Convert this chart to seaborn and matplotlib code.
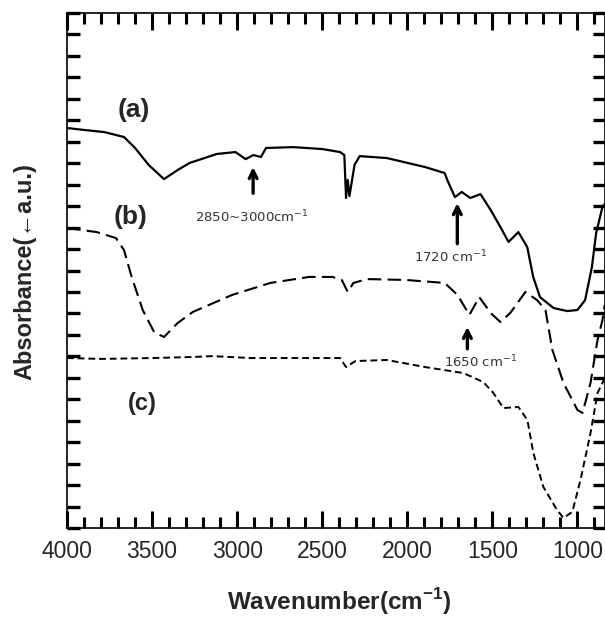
import numpy as np
import pandas as pd
import matplotlib
matplotlib.use("Agg")
import matplotlib.pyplot as plt
import seaborn as sns
from matplotlib.ticker import MultipleLocator, NullFormatter

# ---------------- data ----------------
wn_a = [4000, 3900, 3780, 3665, 3600, 3520, 3430, 3350, 3280, 3120, 3010, 2950, 2905,
        2860, 2830, 2670, 2500, 2395, 2370, 2360, 2350, 2340, 2310, 2280, 2120, 1895,
        1780, 1765, 1720, 1680, 1630, 1570, 1510, 1453, 1405, 1347, 1295, 1260, 1220,
        1140, 1060, 1000, 955, 915, 890, 853, 840]
abs_a = [18.64, 18.55, 18.45, 18.22, 17.71, 16.92, 16.26, 16.68, 17.01, 17.43, 17.52,
         17.19, 17.38, 17.29, 17.71, 17.75, 17.66, 17.52, 17.38, 15.38, 16.22, 15.47,
         16.92, 17.33, 17.24, 16.82, 16.54, 16.22, 15.42, 15.66, 15.38, 15.56, 14.82,
         14.03, 13.33, 13.79, 13.09, 11.70, 10.76, 10.25, 10.11, 10.16, 10.62, 12.16,
         13.75, 14.96, 15.10]

wn_b = [4000, 3825, 3712, 3665, 3620, 3555, 3488, 3430, 3350, 3260, 3030, 2805, 2577,
        2440, 2385, 2350, 2317, 2235, 2010, 1780, 1705, 1635, 1577, 1510, 1453, 1395,
        1306, 1237, 1188, 1147, 1082, 1000, 970, 923, 882, 853, 840]
abs_b = [13.98, 13.79, 13.51, 12.95, 11.70, 10.16, 9.13, 8.90, 9.55, 10.07, 10.86,
         11.42, 11.70, 11.70, 11.56, 11.00, 11.42, 11.60, 11.56, 11.42, 10.86, 9.93,
         10.76, 10.02, 9.60, 10.02, 11.00, 10.62, 10.16, 8.29, 6.76, 5.50, 5.36, 6.76,
         8.76, 9.69, 10.39]

wn_c = [4000, 3800, 3500, 3260, 3145, 2918, 2600, 2395, 2360, 2305, 2120, 1895, 1670,
        1553, 1494, 1435, 1347, 1294, 1259, 1200, 1120, 1082, 1030, 982, 923, 882, 853, 840]
abs_c = [7.92, 7.88, 7.92, 7.97, 8.01, 7.92, 7.92, 7.92, 7.50, 7.78, 7.83, 7.50, 7.22,
         6.80, 6.29, 5.59, 5.64, 5.03, 3.49, 1.91, 0.84, 0.47, 0.75, 2.24, 4.43, 6.29,
         6.76, 6.99]

series_labels = ["(a)", "(b)", "(c)"]
peak_labels = ["2850~3000cm$^{-1}$", "1720 cm$^{-1}$", "1650 cm$^{-1}$"]
x_ticks = [4000, 3500, 3000, 2500, 2000, 1500, 1000]

# ---------------- styling ----------------
sns.set_theme(style="ticks")
plt.rcParams["font.family"] = ["Liberation Sans", "DejaVu Sans"]
plt.rcParams["mathtext.fontset"] = "custom"
plt.rcParams["mathtext.rm"] = "Liberation Sans"
plt.rcParams["mathtext.bf"] = "Liberation Sans:bold"

fig = plt.figure(figsize=(6.05, 6.19), dpi=100)
ax = fig.add_axes([67 / 605, 1 - 528 / 619, 538 / 605, 515 / 619])

df_a = pd.DataFrame({"wn": wn_a, "A": abs_a})
df_b = pd.DataFrame({"wn": wn_b, "A": abs_b})
df_c = pd.DataFrame({"wn": wn_c, "A": abs_c})

sns.lineplot(data=df_a, x="wn", y="A", ax=ax, color="black", lw=1.6, sort=False,
             estimator=None)
sns.lineplot(data=df_b, x="wn", y="A", ax=ax, color="black", lw=1.5, sort=False,
             estimator=None, dashes=False)
sns.lineplot(data=df_c, x="wn", y="A", ax=ax, color="black", lw=1.4, sort=False,
             estimator=None, dashes=False)
ax.lines[1].set_dashes([6.5, 3])
ax.lines[2].set_dashes([3.5, 2])

ax.set_xlim(4000, 838)
ax.set_ylim(0, 24)

ax.xaxis.set_major_locator(MultipleLocator(500))
ax.xaxis.set_minor_locator(MultipleLocator(100))
ax.set_xticks(x_ticks)
ax.yaxis.set_major_locator(MultipleLocator(1))
ax.yaxis.set_major_formatter(NullFormatter())

ax.tick_params(axis="x", which="major", direction="in", length=12, width=2.2,
               top=True, bottom=True, labelsize=16.5, pad=9, color="black")
ax.tick_params(axis="x", which="minor", direction="in", length=8, width=2.2,
               top=True, bottom=True, color="black")
ax.tick_params(axis="y", which="major", direction="in", length=9, width=2.4,
               left=True, right=True, color="black")
ax.tick_params(axis="y", which="minor", left=False, right=False)
for s in ax.spines.values():
    s.set_visible(True)
    s.set_color("black")
    s.set_linewidth(1.2)

ax.set_xlabel("Wavenumber(cm$^{\\mathbf{-1}}$)", fontsize=17.5, fontweight="bold")
ax.xaxis.set_label_coords(0.506, -0.143)
ax.xaxis.label.set_va("center")
ax.set_ylabel("Absorbance(\u2190a.u.)", fontsize=17, fontweight="bold")
ax.yaxis.set_label_coords(-0.078, 0.497)
ax.yaxis.label.set_va("center")

# series labels
ax.text(3606, 19.48, series_labels[0], fontsize=19, fontweight="bold",
        ha="center", va="center")
ax.text(3629, 14.49, series_labels[1], fontsize=19, fontweight="bold",
        ha="center", va="center")
ax.text(3559, 5.78, series_labels[2], fontsize=17, fontweight="bold",
        ha="center", va="center")

# peak arrows
arrow_kw = dict(arrowstyle="->", lw=2.4, color="black", mutation_scale=14,
                shrinkA=0, shrinkB=0)
ax.annotate("", xy=(2906, 16.82), xytext=(2906, 15.60), arrowprops=arrow_kw)
ax.annotate("", xy=(1706, 15.14), xytext=(1706, 13.25), arrowprops=arrow_kw)
ax.annotate("", xy=(1647, 9.37), xytext=(1647, 8.35), arrowprops=arrow_kw)

txt_kw = dict(fontsize=9.5, ha="center", va="center", color="#333333",
              family=["DejaVu Sans"])
plt.rcParams["mathtext.fontset"] = "dejavusans"
ax.text(2912, 14.49, peak_labels[0], **txt_kw)
ax.text(1747, 12.63, peak_labels[1], **txt_kw)
ax.text(1571, 7.74, peak_labels[2], **txt_kw)

fig.savefig("out.png", dpi=100)
